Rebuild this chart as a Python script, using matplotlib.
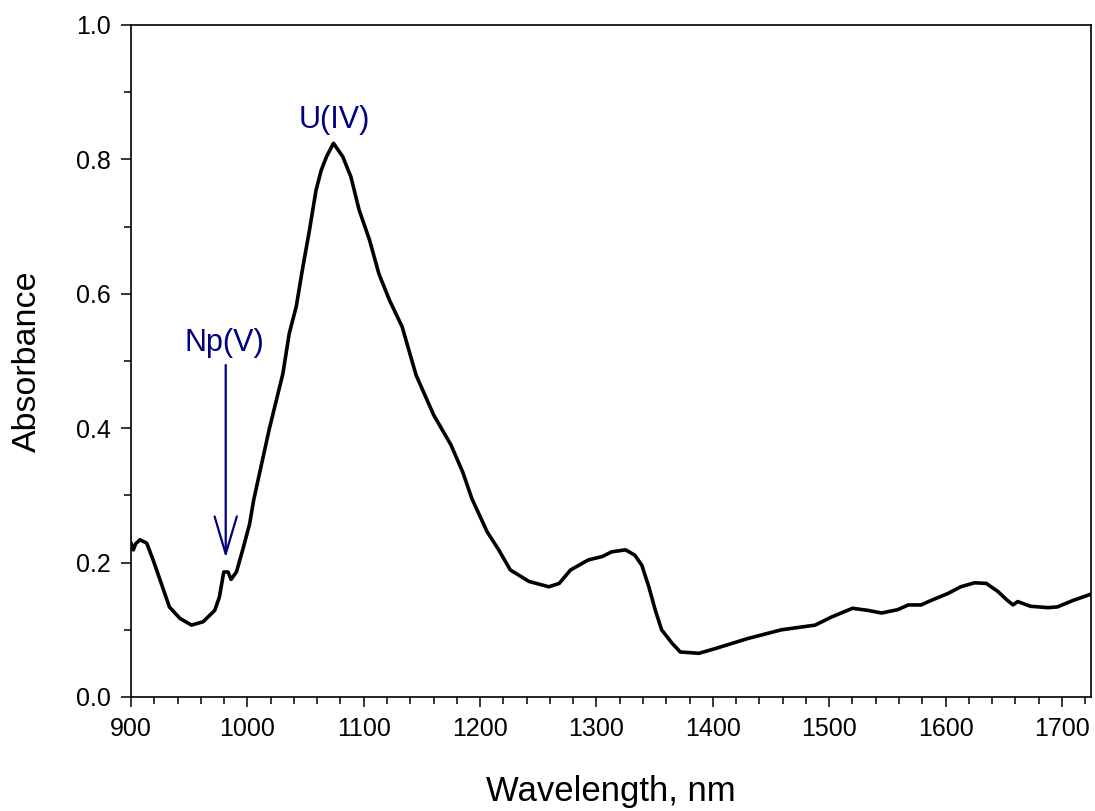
import matplotlib
matplotlib.use("Agg")
import matplotlib.pyplot as plt
from matplotlib.ticker import MultipleLocator

# spectrum
wavelength = [900, 902, 904, 907.7, 913.5, 919, 926, 933, 942, 952, 962, 972, 976,
              979.7, 983.4, 986, 990.6, 996, 1002, 1005.4, 1012, 1019, 1030.5, 1036,
              1042, 1047.7, 1053.4, 1059, 1063.5, 1068, 1074, 1082, 1089, 1096, 1105,
              1113, 1122, 1133, 1145, 1160, 1175, 1185, 1193, 1206, 1216, 1226, 1242,
              1259, 1268, 1277.7, 1293, 1305, 1313, 1325, 1333, 1339, 1345, 1350.6,
              1356, 1365, 1372, 1388, 1402, 1430, 1459, 1488, 1502, 1520, 1533, 1545,
              1559, 1568, 1579, 1588, 1602, 1613, 1625, 1635, 1645, 1653, 1658, 1662,
              1673, 1688, 1696, 1710, 1725]
absorbance = [0.229, 0.219, 0.228, 0.234, 0.229, 0.204, 0.169, 0.134, 0.117, 0.107,
              0.112, 0.129, 0.149, 0.186, 0.186, 0.175, 0.186, 0.219, 0.258, 0.293,
              0.345, 0.400, 0.481, 0.541, 0.581, 0.640, 0.695, 0.754, 0.784, 0.804,
              0.824, 0.804, 0.774, 0.725, 0.680, 0.630, 0.591, 0.551, 0.479, 0.420,
              0.375, 0.335, 0.295, 0.246, 0.219, 0.189, 0.172, 0.164, 0.169, 0.189,
              0.204, 0.209, 0.216, 0.219, 0.211, 0.196, 0.164, 0.129, 0.100, 0.080,
              0.067, 0.065, 0.072, 0.087, 0.100, 0.107, 0.119, 0.132, 0.129, 0.125,
              0.130, 0.137, 0.137, 0.144, 0.154, 0.164, 0.170, 0.169, 0.157, 0.144,
              0.137, 0.142, 0.135, 0.133, 0.134, 0.144, 0.153]

# annotations
np_label = "Np(V)"
np_text = (980.6, 0.527)
np_arrow = (981.4, 0.494, 0.207)   # x, start y, tip y
u_label = "U(IV)"
u_text = (1075, 0.858)

plt.rcParams['font.family'] = ['Liberation Sans', 'DejaVu Sans']
navy = '#00007f'

fig = plt.figure(figsize=(10.95, 8.11), dpi=100)
ax = fig.add_axes([131 / 1095, 114 / 811, 960 / 1095, 672 / 811])

ax.plot(wavelength, absorbance, color='black', lw=2.6)

ax.set_xlim(900, 1725)
ax.set_ylim(0, 1.0)
ax.xaxis.set_major_locator(MultipleLocator(100))
ax.xaxis.set_minor_locator(MultipleLocator(20))
ax.yaxis.set_major_locator(MultipleLocator(0.2))
ax.yaxis.set_minor_locator(MultipleLocator(0.1))
ax.yaxis.set_major_formatter(matplotlib.ticker.FormatStrFormatter('%.1f'))

ax.tick_params(which='major', direction='out', length=7.5, width=1.1, labelsize=18, pad=7)
ax.tick_params(which='minor', direction='out', length=5, width=1.1)
for s in ax.spines.values():
    s.set_linewidth(1.2)

ax.set_xlabel("Wavelength, nm", fontsize=25)
ax.set_ylabel("Absorbance", fontsize=24.5)
ax.xaxis.set_label_coords(0.5, -0.116)
ax.yaxis.set_label_coords(-0.092, 0.5)

ax.text(u_text[0], u_text[1], u_label, color=navy, fontsize=22, ha='center', va='center')
ax.text(np_text[0], np_text[1], np_label, color=navy, fontsize=22, ha='center', va='center')
ax.annotate("", xy=(np_arrow[0], np_arrow[2]), xytext=(np_arrow[0], np_arrow[1]),
            arrowprops=dict(arrowstyle='->,head_length=2.7,head_width=0.8',
                            color=navy, lw=1.6, mutation_scale=10,
                            shrinkA=0, shrinkB=0))

fig.savefig("out.png", dpi=100)
